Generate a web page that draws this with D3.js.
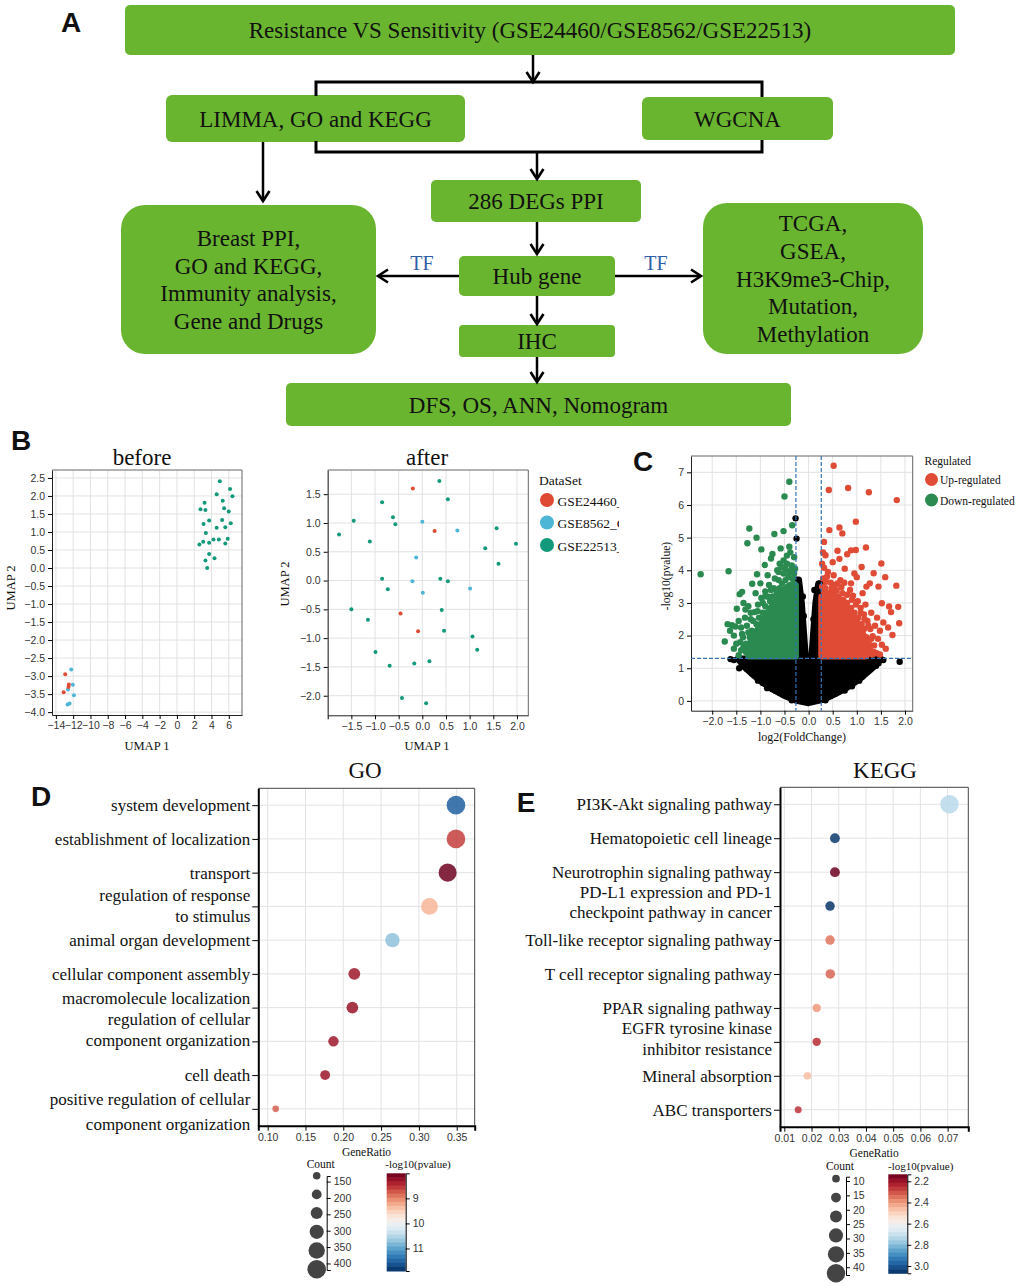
<!DOCTYPE html>
<html>
<head>
<meta charset="utf-8">
<script src="https://cdn.jsdelivr.net/npm/d3@7"></script>
<style>
body { margin: 0; background: #fff; }
svg text { font-family: "Liberation Serif", "Times New Roman", serif; fill: #111; }
.tick text { font-family: "Liberation Sans", Arial, sans-serif; font-size: 10.5px; fill: #333 !important; }
</style>
</head>
<body>
<div id="fig"></div>
<script>
// ---------------- data ----------------

// A: workflow
const flowSteps = [
    ["Resistance VS Sensitivity (GSE24460/GSE8562/GSE22513)"],
    ["LIMMA, GO and KEGG"],
    ["WGCNA"],
    ["286 DEGs PPI"],
    ["Breast PPI,", "GO and KEGG,", "Immunity analysis,", "Gene and Drugs"],
    ["Hub gene"],
    ["TCGA,", "GSEA,", "H3K9me3-Chip,", "Mutation,", "Methylation"],
    ["IHC"],
    ["DFS, OS, ANN, Nomogram"]
];
const flowEdgeLabels = ["TF", "TF"];

// B: UMAP before / after batch removal
const dataSets = ["GSE24460_GPL570", "GSE8562_GPL570", "GSE22513_GPL570"];
const beforeRed = [[-12.92,-2.95],[-12.5,-3.23],[-12.54,-3.30],[-13.1,-3.45]];
const beforeBlue = [[-12.23,-2.82],[-12.04,-3.24],[-12.6,-3.37],[-11.92,-3.53],[-12.42,-3.76],[-12.65,-3.79]];
const beforeGreen = [[4.96,2.41],[6.15,2.19],[6.42,1.99],[4.6,2.05],[5.3,1.87],[3.2,1.81],[2.73,1.63],[3.3,1.61],
    [5.46,1.66],[6.0,1.57],[3.08,1.22],[3.73,1.32],[5.23,1.33],[6.23,1.24],[4.6,1.12],[5.6,1.13],[3.35,0.97],
    [4.23,0.79],[4.85,0.79],[5.88,0.81],[3.04,0.73],[3.73,0.70],[2.6,0.65],[5.6,0.68],[3.73,0.39],[3.3,0.21],
    [4.35,0.27],[3.5,0.0]];
const afterRed = [[-0.20,1.60],[0.26,0.86],[-0.46,-0.57],[-0.09,-0.88]];
const afterBlue = [[0.0,1.02],[0.74,0.87],[-0.13,0.40],[-0.21,-0.01],[0.01,-0.21],[1.01,-0.14]];
const afterGreen = [[0.36,1.73],[0.54,1.41],[-0.85,1.36],[-1.45,1.04],[-0.62,1.10],[-0.57,0.98],[-1.76,0.80],
    [-1.11,0.68],[1.57,0.91],[1.98,0.64],[1.33,0.56],[1.61,0.29],[-0.85,0.03],[0.38,0.03],[0.54,-0.01],
    [-0.73,-0.15],[-1.50,-0.50],[0.41,-0.51],[-1.15,-0.68],[0.46,-0.87],[1.06,-0.97],[1.16,-1.20],
    [-0.99,-1.24],[0.15,-1.40],[-0.17,-1.44],[-0.69,-1.48],[-0.43,-2.04],[0.08,-2.13]];
const beforeXTicks = [-14,-12,-10,-8,-6,-4,-2,0,2,4,6];
const beforeYTicks = [2.5,2.0,1.5,1.0,0.5,0.0,-0.5,-1.0,-1.5,-2.0,-2.5,-3.0,-3.5,-4.0];
const afterXTicks = [-2.0,-1.5,-1.0,-0.5,0.0,0.5,1.0,1.5,2.0];
const afterYTicks = [1.5,1.0,0.5,0.0,-0.5,-1.0,-1.5,-2.0];

// C: volcano (dense centres as outlines, sparse points listed)
const volcanoCut = [0.263, 1.301];
const regulatedNames = ["Up-regulated", "Down-regulated"];
const nsCore = [[0.0,-0.07],[-0.25,0.0],[-0.5,0.15],[-0.75,0.35],[-1.0,0.6],[-1.2,0.85],[-1.35,1.05],[-1.47,1.3],
    [-0.27,1.3],[-0.27,3.72],[-0.2,3.72],[-0.14,3.0],[-0.09,2.0],[-0.05,1.2],[-0.02,0.8],[0.02,0.8],[0.05,1.2],
    [0.09,2.0],[0.14,3.0],[0.2,3.6],[0.27,3.6],[0.27,1.3],[1.5,1.3],[1.4,1.1],[1.25,0.9],[1.05,0.65],[0.8,0.4],
    [0.55,0.2],[0.3,0.03]];
const nsPoints = [[-0.27,5.59],[-0.25,4.97],[1.89,1.2],[-1.44,1.0],[1.24,1.23],[1.16,0.93],[0.65,0.34],[-0.86,0.39],
    [-0.75,0.36],[-1.2,1.24],[-0.23,3.68],[-0.19,3.45],[-0.24,3.3],[0.22,3.58],[0.2,3.3],[0.25,3.2],[-1.55,1.25],
    [-1.3,1.15],[1.35,1.2],[1.4,1.08],[1.3,1.0],[-1.1,0.8],[1.05,0.62],[-0.95,0.55],[0.9,0.45],[-0.6,0.25],
    [0.45,0.15],[1.55,1.25],[-1.62,1.28],[0.12,3.4],[-0.12,3.2],[-1.05,0.62],[-0.68,0.3],[0.75,0.32],
    [1.12,0.75],[-1.28,0.98],[1.45,1.15],[-0.35,0.02],[0.35,0.02],[-0.1,2.6],[0.1,2.5]];
const downCore = [[-0.263,1.36],[-1.25,1.36],[-1.25,1.7],[-1.1,2.1],[-0.95,2.45],[-0.82,2.8],[-0.66,3.1],
    [-0.52,3.4],[-0.4,3.55],[-0.3,3.6],[-0.263,3.55]];
const downPoints = [[-0.40,6.71],[-0.50,6.26],[-1.23,5.28],[-0.52,5.20],[-0.34,5.38],[-1.08,5.0],[-0.71,5.11],
    [-1.27,4.83],[-0.98,4.64],[-0.58,4.67],[-0.40,4.72],[-0.78,4.36],[-0.91,4.16],[-1.07,3.88],[-1.66,3.97],
    [-2.24,3.88],[-1.74,1.82],[-1.17,3.59],[-1.43,3.27],[-1.38,3.34],[-1.49,2.82],[-1.31,2.80],[-1.59,2.32],
    [-1.52,2.28],[-1.63,2.15],[-0.3,4.4],[-0.38,4.55],[-0.45,4.45],[-0.52,4.3],[-0.35,4.15],[-0.48,4.05],
    [-0.4,3.95],[-0.62,3.95],[-0.7,3.75],[-0.82,3.55],[-0.9,3.35],[-0.98,3.15],[-1.05,2.95],[-1.12,2.72],
    [-1.2,2.5],[-1.28,2.3],[-1.38,2.05],[-1.42,1.8],[-1.4,1.55],[-1.45,1.4],[-1.55,1.6],[-1.25,2.9],
    [-1.32,2.55],[-1.45,2.45],[-1.0,3.6],[-0.85,3.85],[-1.1,3.3],[-1.55,2.0],[-1.68,2.35],[-1.35,3.0],
    [-0.6,4.2],[-0.75,4.5],[-0.65,4.0],
    [-1.3,1.75],[-1.22,1.95],[-1.18,2.15],[-1.08,2.35],[-1.03,2.55],[-0.95,2.7],[-0.9,2.9],[-0.8,3.05],
    [-0.75,3.2],[-0.66,3.3],[-0.6,3.45],[-0.55,3.6],[-0.48,3.7],[-0.42,3.8],[-0.34,3.75],[-0.3,3.9],
    [-1.36,1.95],[-1.25,2.1],[-1.15,2.45],[-1.06,2.75],[-0.95,3.0],[-0.85,3.2],[-0.72,3.45],[-0.62,3.7],
    [-0.52,3.9],[-0.36,4.0],[-0.45,4.2],[-1.3,1.5],[-1.35,1.65],[-1.5,1.75],[-1.2,2.7],[-0.9,3.2],
    [-1.4,2.25],[-0.78,3.4],[-0.28,4.05],[-0.56,4.1]];
const upCore = [[0.263,1.36],[1.2,1.36],[1.22,1.7],[1.12,2.1],[1.0,2.45],[0.85,2.75],[0.7,3.0],[0.5,3.15],
    [0.35,3.2],[0.263,3.2]];
const upPoints = [[0.52,7.2],[0.42,6.46],[0.82,6.52],[1.25,6.39],[1.83,6.15],[0.98,5.49],[0.43,5.23],[0.64,5.31],
    [0.70,5.13],[0.32,4.87],[1.19,4.70],[0.98,4.62],[0.88,4.61],[0.30,4.55],[0.35,4.46],[0.64,4.35],[0.80,4.49],
    [1.51,4.21],[0.32,4.08],[1.35,3.91],[1.59,3.79],[1.00,3.79],[1.82,3.53],[1.45,3.50],[1.27,3.60],[1.86,2.88],
    [1.67,2.89],[1.88,2.38],[1.55,2.40],[1.74,2.02],[1.41,1.46],[1.26,1.46],[1.71,2.72],[1.52,2.99],
    [0.36,3.65],[0.46,3.62],[0.55,3.55],[0.68,3.48],[0.74,3.62],[0.86,3.4],[0.92,3.22],[1.02,3.05],[1.08,2.85],
    [1.15,2.65],[1.22,2.45],[1.28,2.2],[1.33,1.98],[1.36,1.7],[1.35,1.5],[0.3,3.75],[0.28,4.2],[0.4,3.95],
    [0.52,3.85],[0.66,3.7],[0.88,3.6],[1.12,3.3],[1.18,2.95],[1.3,2.7],[1.42,2.55],[1.38,2.3],[1.48,2.15],
    [1.44,1.9],[1.52,1.72],[1.6,1.6],[1.48,1.42],[1.65,2.25],[1.2,3.5],[0.95,3.9],[0.75,4.05],[0.5,4.25],
    [0.6,4.6],[1.1,4.1],
    [1.25,1.75],[1.2,1.95],[1.15,2.2],[1.1,2.35],[1.03,2.55],[0.95,2.7],[0.88,2.85],[0.8,3.0],[0.72,3.1],
    [0.62,3.2],[0.52,3.3],[0.42,3.3],[0.32,3.35],[0.28,3.5],[0.35,3.45],[0.48,3.45],[0.58,3.38],[0.7,3.3],
    [0.8,3.25],[0.9,3.1],[0.98,2.95],[1.08,2.7],[1.16,2.5],[1.24,2.3],[1.3,1.9],[1.27,1.6],[0.29,3.05],
    [1.32,1.42],[1.05,2.2],[0.95,2.5],[0.6,3.6],[0.38,3.8]];
const volcanoXTicks = [-2.0,-1.5,-1.0,-0.5,0.0,0.5,1.0,1.5,2.0];
const volcanoYTicks = [0,1,2,3,4,5,6,7];

// D: GO enrichment
const goTerms = ["system development", "establishment of localization", "transport",
    "regulation of response\nto stimulus", "animal organ development", "cellular component assembly",
    "macromolecule localization", "regulation of cellular\ncomponent organization", "cell death",
    "positive regulation of cellular\ncomponent organization"];
const goRatio = [0.349, 0.349, 0.338, 0.314, 0.265, 0.2146, 0.212, 0.187, 0.176, 0.1106];
const goCount = [401, 401, 389, 361, 305, 247, 244, 215, 202, 127];
const goLogP = [11.55, 8.59, 8.04, 9.29, 10.73, 8.31, 8.27, 8.31, 8.29, 8.78];
const goXTicks = [0.10, 0.15, 0.20, 0.25, 0.30, 0.35];
const goCountTicks = [150, 200, 250, 300, 350, 400];
const goPTicks = [9, 10, 11];

// E: KEGG enrichment
const keggTerms = ["PI3K-Akt signaling pathway", "Hematopoietic cell lineage", "Neurotrophin signaling pathway",
    "PD-L1 expression and PD-1\ncheckpoint pathway in cancer", "Toll-like receptor signaling pathway",
    "T cell receptor signaling pathway", "PPAR signaling pathway", "EGFR tyrosine kinase\ninhibitor resistance",
    "Mineral absorption", "ABC transporters"];
const keggRatio = [0.0707, 0.0286, 0.0286, 0.0268, 0.0268, 0.0269, 0.0219, 0.0219, 0.0185, 0.0151];
const keggCount = [40, 16, 16, 15, 15, 15, 12, 12, 10, 8];
const keggLogP = [2.73, 3.05, 2.14, 3.06, 2.35, 2.33, 2.40, 2.25, 2.46, 2.26];
const keggXTicks = [0.01, 0.02, 0.03, 0.04, 0.05, 0.06, 0.07];
const keggCountTicks = [10, 15, 20, 25, 30, 35, 40];
const keggCountCircles = [10, 16, 22, 28, 34, 40];
const keggPTicks = [2.2, 2.4, 2.6, 2.8, 3.0];

// ---------------- drawing ----------------
const W = 1020, H = 1287;
const svg = d3.select("#fig").append("svg").attr("width", W).attr("height", H);
svg.append("rect").attr("width", W).attr("height", H).attr("fill", "#fff");

const setColors = ["#df4a35", "#4db5d5", "#12987a"];
const upColor = "#e04b36", downColor = "#2a8a50";

function label(x, y, txt, size, opts = {}) {
    const t = svg.append("text").attr("x", x).attr("y", y).attr("dy", "0.35em")
        .attr("text-anchor", opts.anchor || "middle").style("font-size", size + "px").text(txt);
    if (opts.rotate) t.attr("transform", `rotate(-90,${x},${y})`);
    if (opts.fill) t.style("fill", opts.fill);
    if (opts.bold) t.style("font-family", "'Liberation Sans', Arial, sans-serif").style("font-weight", "bold");
    return t;
}

// panel letters
const letterPos = [[71, 22], [21, 440], [643, 461], [41, 796], [526, 802]];
["A", "B", "C", "D", "E"].forEach((l, i) => label(letterPos[i][0], letterPos[i][1], l, 28, {bold: true}));

// ---- A: flowchart
const flowGreen = "#6ab530";
const boxLayout = [
    {x: 125, y: 5, w: 830, h: 50, r: 5, tx: 530},
    {x: 166, y: 95, w: 299, h: 47, r: 6},
    {x: 642, y: 97, w: 191, h: 43, r: 6},
    {x: 431, y: 180, w: 210, h: 42, r: 5},
    {x: 121, y: 205, w: 255, h: 149, r: 24},
    {x: 459, y: 256, w: 156, h: 40, r: 5},
    {x: 703, y: 203, w: 220, h: 151, r: 24},
    {x: 459, y: 325, w: 156, h: 32, r: 4},
    {x: 286, y: 383, w: 505, h: 43, r: 5}
];
const flow = svg.append("g");
boxLayout.forEach((b, i) => {
    flow.append("rect").attr("x", b.x).attr("y", b.y).attr("width", b.w).attr("height", b.h)
        .attr("rx", b.r).attr("fill", flowGreen);
    const lines = flowSteps[i];
    lines.forEach((t, j) => {
        label(b.tx || b.x + b.w / 2, b.y + b.h / 2 + (j - (lines.length - 1) / 2) * 27.6, t, 23);
    });
});

// bracket round LIMMA / WGCNA
flow.append("path").attr("d", "M316,96V82H762V97M316,141V152H762V140")
    .attr("fill", "none").attr("stroke", "#000").attr("stroke-width", 3);

function arrow(x1, y1, x2, y2) {
    const a = Math.atan2(y2 - y1, x2 - x1), L = 10, hw = 6.5;
    flow.append("line").attr("x1", x1).attr("y1", y1)
        .attr("x2", x2 - Math.cos(a)).attr("y2", y2 - Math.sin(a))
        .attr("stroke", "#000").attr("stroke-width", 2.5);
    const bx = x2 - L * Math.cos(a), by = y2 - L * Math.sin(a);
    const px = -Math.sin(a) * hw, py = Math.cos(a) * hw;
    flow.append("path").attr("d", `M${bx + px},${by + py}L${x2},${y2}L${bx - px},${by - py}`)
        .attr("fill", "none").attr("stroke", "#000").attr("stroke-width", 2.6);
}
[[533, 55, 533, 82], [537, 152, 537, 179], [263, 142, 263, 201], [537, 222, 537, 254],
 [459, 276, 378, 276], [615, 276, 701, 276], [537, 296, 537, 324], [537, 357, 537, 382]]
    .forEach(a => arrow(...a));
label(422, 263, flowEdgeLabels[0], 20, {fill: "#2f5ea8"});
label(656, 263, flowEdgeLabels[1], 20, {fill: "#2f5ea8"});

// ---- scatter frame used by B and C
function scatterFrame(x, y, xTicks, yTicks, fmtX, fmtY) {
    const [x0, x1] = x.range(), [y0, y1] = y.range();
    const g = svg.append("g");
    g.append("g").selectAll("line").data(xTicks).join("line")
        .attr("x1", d => x(d)).attr("x2", d => x(d)).attr("y1", y1).attr("y2", y0)
        .attr("stroke", "#e2e2e2");
    g.append("g").selectAll("line").data(yTicks).join("line")
        .attr("y1", d => y(d)).attr("y2", d => y(d)).attr("x1", x0).attr("x2", x1)
        .attr("stroke", "#e2e2e2");
    g.append("path").attr("d", `M${x0},${y1}H${x1}V${y0}`).attr("fill", "none").attr("stroke", "#666");
    g.append("g").attr("transform", `translate(0,${y0})`)
        .call(d3.axisBottom(x).tickValues(xTicks).tickFormat(fmtX).tickSize(4).tickSizeOuter(0));
    g.append("g").attr("transform", `translate(${x0},0)`)
        .call(d3.axisLeft(y).tickValues(yTicks).tickFormat(fmtY).tickSize(4).tickSizeOuter(0));
    g.selectAll(".domain").attr("stroke", "#222");
    return g;
}

function dots(g, pts, x, y, r, col) {
    g.append("g").selectAll("circle").data(pts).join("circle")
        .attr("cx", d => x(d[0])).attr("cy", d => y(d[1])).attr("r", r).attr("fill", col);
}

// ---- B before
const bx = d3.scaleLinear().domain([-14.45, 7.53]).range([52, 242]);
const by = d3.scaleLinear().domain([-4.08, 2.72]).range([715, 470]);
const gBefore = scatterFrame(bx, by, beforeXTicks, beforeYTicks, d3.format("d"), d3.format(".1f"));
dots(gBefore, beforeGreen, bx, by, 2, setColors[2]);
dots(gBefore, beforeBlue, bx, by, 2, setColors[1]);
dots(gBefore, beforeRed, bx, by, 2, setColors[0]);
label(142, 457, "before", 23);
label(147, 746, "UMAP 1", 12.5);
label(11, 588, "UMAP 2", 12.5, {rotate: true});

// ---- B after
const ax = d3.scaleLinear().domain([-2.0, 2.24]).range([327.7, 528.3]);
const ay = d3.scaleLinear().domain([-2.34, 1.92]).range([715.3, 470]);
const f1 = d3.format(".1f");
const gAfter = scatterFrame(ax, ay, afterXTicks, afterYTicks, d => d === -2 ? "" : f1(d), f1);
dots(gAfter, afterGreen, ax, ay, 2, setColors[2]);
dots(gAfter, afterBlue, ax, ay, 2, setColors[1]);
dots(gAfter, afterRed, ax, ay, 2, setColors[0]);
label(427, 457, "after", 23);
label(427, 746, "UMAP 1", 12.5);
label(285, 584, "UMAP 2", 12.5, {rotate: true});

// legend, names are cut off in the figure
svg.append("clipPath").attr("id", "legclip").append("rect").attr("x", 530).attr("y", 485).attr("width", 89).attr("height", 80);
label(539, 480, "DataSet", 13.5, {anchor: "start"});
const legY = [500, 522.5, 545];
dataSets.forEach((d, i) => {
    svg.append("circle").attr("cx", 547).attr("cy", legY[i]).attr("r", 7).attr("fill", setColors[i]);
    label(557.5, legY[i] + 1, d, 13.5, {anchor: "start"}).attr("clip-path", "url(#legclip)");
});

// ---- C volcano
const vx = d3.scaleLinear().domain([-2.44, 2.16]).range([691, 912.7]);
const vy = d3.scaleLinear().domain([-0.3, 7.5]).range([710.7, 456]);
const gVol = scatterFrame(vx, vy, volcanoXTicks, volcanoYTicks, f1, d3.format("d"));
const outline = d3.line().x(d => vx(d[0])).y(d => vy(d[1]));
function blob(pts, col) {
    gVol.append("path").attr("d", outline(pts) + "Z").attr("fill", col).attr("stroke", col)
        .attr("stroke-width", 6).attr("stroke-linejoin", "round");
}
blob(nsCore, "#000");
dots(gVol, nsPoints, vx, vy, 3.2, "#000");
blob(downCore, downColor);
dots(gVol, downPoints, vx, vy, 3.2, downColor);
blob(upCore, upColor);
dots(gVol, upPoints, vx, vy, 3.2, upColor);
const [vx0, vx1] = vx.range(), [vy0, vy1] = vy.range();
[-volcanoCut[0], volcanoCut[0]].forEach(c => gVol.append("line")
    .attr("x1", vx(c)).attr("x2", vx(c)).attr("y1", vy1).attr("y2", vy0)
    .attr("stroke", "#3673b5").attr("stroke-dasharray", "4,2").attr("stroke-width", 1.2));
gVol.append("line").attr("x1", vx0).attr("x2", vx1).attr("y1", vy(volcanoCut[1])).attr("y2", vy(volcanoCut[1]))
    .attr("stroke", "#3673b5").attr("stroke-dasharray", "4,2").attr("stroke-width", 1.2);
label(802, 737, "log2(FoldChange)", 12);
label(666, 576, "-log10(pvalue)", 11.5, {rotate: true});
label(924.5, 461, "Regulated", 11.5, {anchor: "start"});
[upColor, downColor].forEach((c, i) => {
    svg.append("circle").attr("cx", 931.5).attr("cy", 479.5 + i * 20.5).attr("r", 6.5).attr("fill", c);
    label(940, 480 + i * 20.5, regulatedNames[i], 11.5, {anchor: "start"});
});

// ---- D / E dot plots
function dotPanel(p) {
    const x = d3.scaleLinear().domain(p.xDomain).range([p.left, p.right]);
    const y = d3.scalePoint().domain(p.terms.map((d, i) => i)).range([p.top, p.bottom]).padding(0.5);
    const g = svg.append("g");
    g.append("g").selectAll("line").data(p.xTicks).join("line")
        .attr("x1", d => x(d)).attr("x2", d => x(d)).attr("y1", p.top).attr("y2", p.bottom)
        .attr("stroke", "#e3e3e3");
    g.append("g").selectAll("line").data(p.terms).join("line")
        .attr("x1", p.left).attr("x2", p.right).attr("y1", (d, i) => y(i)).attr("y2", (d, i) => y(i))
        .attr("stroke", "#e3e3e3");
    g.append("path").attr("d", `M${p.left},${p.top}H${p.right}V${p.bottom}`)
        .attr("fill", "none").attr("stroke", "#444");
    g.append("g").attr("transform", `translate(0,${p.bottom})`)
        .call(d3.axisBottom(x).tickValues(p.xTicks).tickFormat(d3.format(".2f")).tickSize(5).tickSizeOuter(5))
        .call(a => a.select(".domain").attr("stroke-width", 2));
    g.append("g").attr("transform", `translate(${p.left},0)`)
        .call(d3.axisLeft(y).tickFormat("").tickSize(6).tickSizeOuter(0))
        .call(a => a.select(".domain").attr("stroke-width", 2));
    p.terms.forEach((t, i) => {
        const lines = t.split("\n");
        const dys = p.labelDy[i] || (lines.length === 1 ? [0] : [-10.5, 10.5]);
        lines.forEach((l, j) => label(p.left - 8, y(i) + dys[j], l, 17, {anchor: "end"}));
    });
    g.append("g").selectAll("circle").data(p.ratio).join("circle")
        .attr("cx", d => x(d)).attr("cy", (d, i) => y(i))
        .attr("r", (d, i) => p.size(p.count[i])).attr("fill", (d, i) => p.color(p.logp[i]))
        .attr("fill-opacity", 0.85);
    label(p.titleX, 770, p.title, 23);
    label((p.left + p.right) / 2, p.bottom + 26, "GeneRatio", 11.5);
}

function sizeLegend(size, circleVals, tickVals, cx, cy0, step, axisX, axisScale, titleX, titleY) {
    label(titleX, titleY, "Count", 11.5);
    svg.append("g").selectAll("circle").data(circleVals).join("circle")
        .attr("cx", cx).attr("cy", (d, i) => cy0 + i * step).attr("r", d => size(d)).attr("fill", "#444");
    svg.append("g").attr("transform", `translate(${axisX},0)`)
        .call(d3.axisRight(axisScale).tickValues(tickVals).tickSize(4).tickSizeOuter(4));
}

function colorBar(color, domain, ticks, x0, y0, y1, fmt, titleX, titleY) {
    const s = d3.scaleLinear().domain(domain).range([y0, y1]);
    const n = 24, g = svg.append("g");
    for (let k = 0; k < n; k++) {
        const a = domain[0] + (domain[1] - domain[0]) * k / n, b = domain[0] + (domain[1] - domain[0]) * (k + 1) / n;
        g.append("rect").attr("x", x0).attr("y", s(a)).attr("width", 19).attr("height", s(b) - s(a) + 0.5)
            .attr("fill", color((a + b) / 2));
    }
    svg.append("g").attr("transform", `translate(${x0 + 19},0)`)
        .call(d3.axisRight(s).tickValues(ticks).tickFormat(d3.format(fmt)).tickSize(4).tickSizeOuter(4));
    label(titleX, titleY, "-log10(pvalue)", 11);
}

const goSize = d3.scaleLinear().domain([127, 401]).range([3.3, 9.3]);
const goColor = d3.scaleSequential(d3.interpolateRdBu).domain([8.0, 11.9]);
dotPanel({terms: goTerms, ratio: goRatio, count: goCount, logp: goLogP, xDomain: [0.0876, 0.3738],
    xTicks: goXTicks, left: 258.3, right: 474.7, top: 788.3, bottom: 1125.7, size: goSize, color: goColor,
    labelDy: {3: [-11.5, 9.5], 6: [-10], 7: [-22, -1], 9: [-9.5, 15.5]}, title: "GO", titleX: 365});
sizeLegend(goSize, goCountTicks, goCountTicks, 316.7, 1175.7, 18.7, 326.7,
    d3.scaleLinear().domain([133, 420]).range([1176, 1270]), 320.7, 1163.5);
colorBar(goColor, [8.0, 11.9], goPTicks, 386.7, 1173.3, 1271, "d", 418, 1164);

const keggSize = d3.scaleLinear().domain([8, 40]).range([3.5, 9.2]);
const keggColor = d3.scaleSequential(d3.interpolateRdBu).domain([2.134, 3.069]);
dotPanel({terms: keggTerms, ratio: keggRatio, count: keggCount, logp: keggLogP, xDomain: [0.00842, 0.0776],
    xTicks: keggXTicks, left: 780, right: 968.3, top: 787.3, bottom: 1126.7, size: keggSize, color: keggColor,
    labelDy: {3: [-14, 6], 7: [-13.5, 7.5]}, title: "KEGG", titleX: 885});
sizeLegend(keggSize, keggCountCircles, keggCountTicks, 836, 1178.7, 18.9, 846,
    d3.scaleLinear().domain([8.5, 42.7]).range([1176.7, 1275]), 840, 1166);
colorBar(keggColor, [2.134, 3.069], keggPTicks, 888.3, 1174.3, 1273.3, ".1f", 920.7, 1165.7);
</script>
</body>
</html>
